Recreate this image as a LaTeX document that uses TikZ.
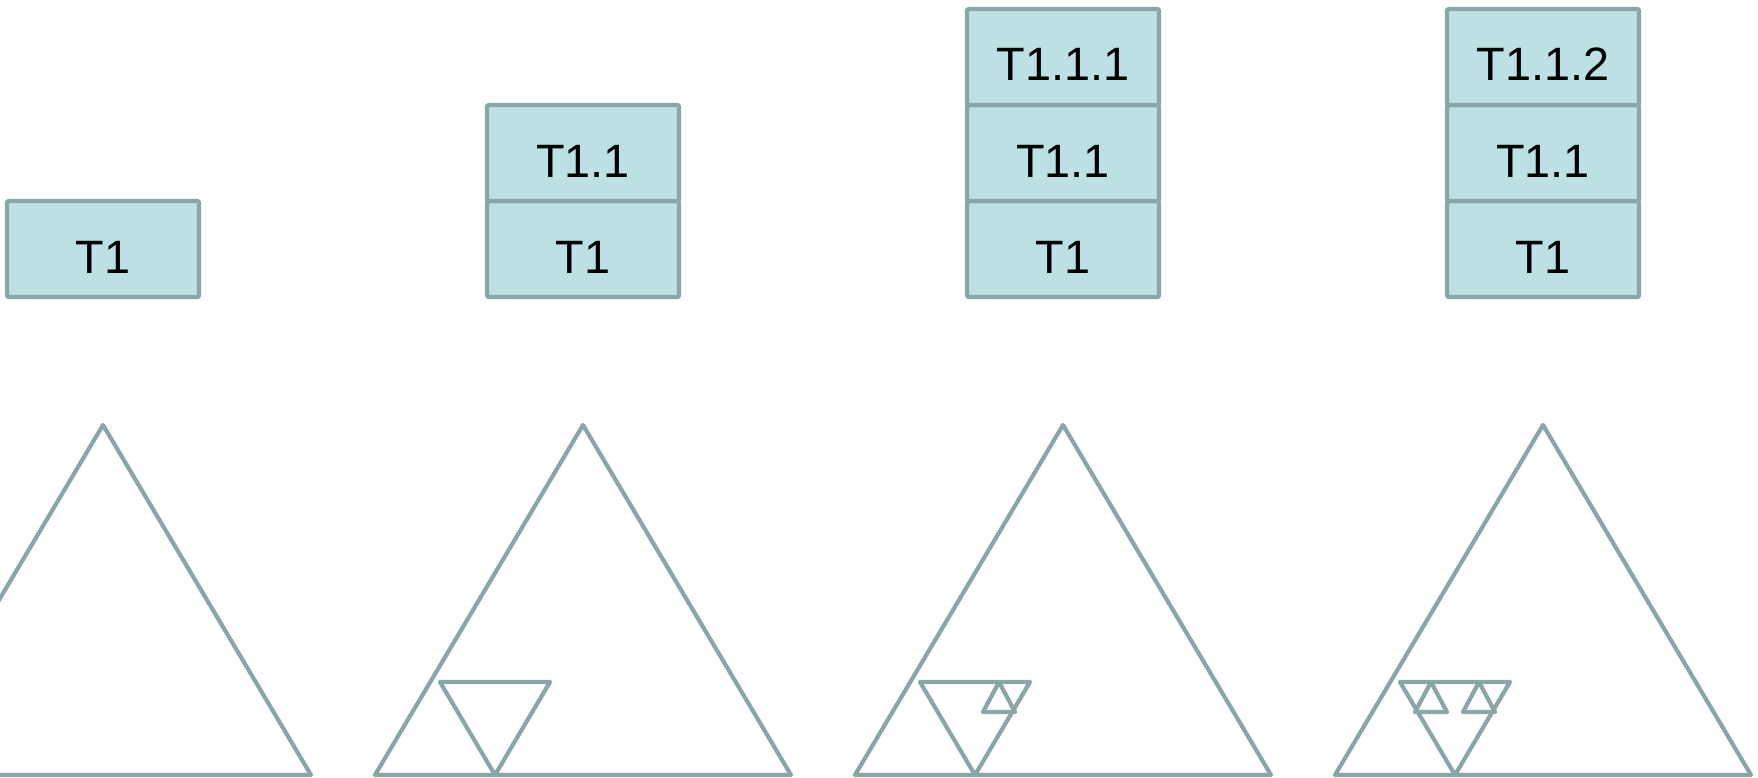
\documentclass[tikz,border=0pt]{standalone}
\usepackage{fontspec}
\setmainfont{Liberation Sans}
\definecolor{edge}{RGB}{139,166,168}
\definecolor{cell}{RGB}{188,224,228}
\begin{document}
\begin{tikzpicture}[x=1bp,y=-1bp,
  stackcell/.style={draw=edge, fill=cell, line width=4.3bp, rounded corners=2bp,
    minimum width=192bp, minimum height=96bp, inner sep=0pt,
    text height=48bp, text depth=0bp,
    font=\fontsize{47}{56}\selectfont},
  tri/.style={draw=edge, line width=4.2bp, line join=round, line cap=round}]
\clip (0,0) rectangle (1758,778);

% stack snapshots
\node[stackcell] (a1) at (103,249) {T1};

\node[stackcell] (b1) at (583,249) {T1};
\node[stackcell] (b2) at (583,153) {T1.1};

\node[stackcell] (c1) at (1063,249) {T1};
\node[stackcell] (c2) at (1063,153) {T1.1};
\node[stackcell] (c3) at (1063,57) {T1.1.1};

\node[stackcell] (d1) at (1543,249) {T1};
\node[stackcell] (d2) at (1543,153) {T1.1};
\node[stackcell] (d3) at (1543,57) {T1.1.2};

% subdivided triangles
\begin{scope}[shift={(103,0)}]
  \draw[tri] (0,425) -- (208,775) -- (-208,775) -- cycle;
\end{scope}

\begin{scope}[shift={(583,0)}]
  \draw[tri] (0,425) -- (208,775) -- (-208,775) -- cycle;
  \draw[tri] (-143,682) -- (-33,682) -- (-88,775) -- cycle;
\end{scope}

\begin{scope}[shift={(1063,0)}]
  \draw[tri] (0,425) -- (208,775) -- (-208,775) -- cycle;
  \draw[tri] (-143,682) -- (-33,682) -- (-88,775) -- cycle;
  \draw[tri] (-64,682) -- (-48,712) -- (-80,712) -- cycle;
\end{scope}

\begin{scope}[shift={(1543,0)}]
  \draw[tri] (0,425) -- (208,775) -- (-208,775) -- cycle;
  \draw[tri] (-143,682) -- (-33,682) -- (-88,775) -- cycle;
  \draw[tri] (-64,682) -- (-48,712) -- (-80,712) -- cycle;
  \draw[tri] (-112,682) -- (-96,712) -- (-128,712) -- cycle;
\end{scope}
\end{tikzpicture}
\end{document}
